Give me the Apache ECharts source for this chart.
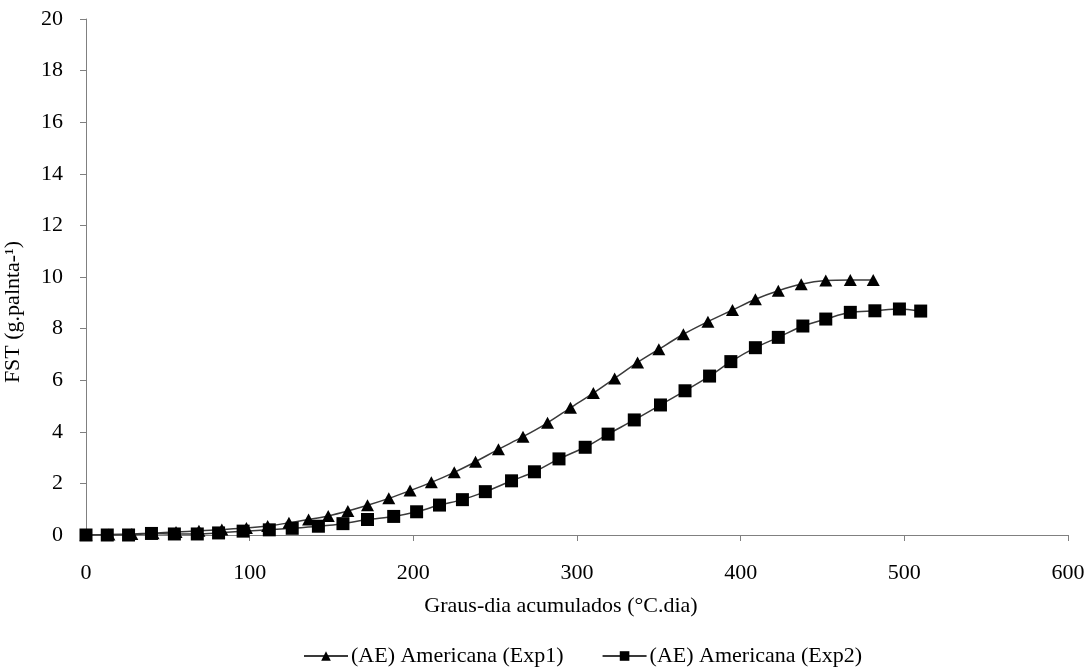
<!DOCTYPE html>
<html>
<head>
<meta charset="utf-8">
<script src="https://cdn.jsdelivr.net/npm/echarts@6/dist/echarts.min.js"></script>
<style>
html,body{margin:0;padding:0;background:#fff;}
#chart{width:1088px;height:668px;}
</style>
</head>
<body>
<div id="chart"></div>
<script>
// Exp1 (triangles)
var exp1X = [0, 14, 28, 41, 55, 69, 83, 98, 111, 124, 136, 148, 160, 172, 185, 198, 211, 225, 238, 252, 267, 282, 296, 310, 323, 337, 350, 365, 380, 395, 409, 423, 437, 452, 467, 481];
var exp1Y = [0, 0.02, 0.04, 0.07, 0.12, 0.16, 0.21, 0.27, 0.35, 0.47, 0.6, 0.74, 0.93, 1.15, 1.42, 1.72, 2.04, 2.43, 2.84, 3.32, 3.81, 4.35, 4.93, 5.5, 6.07, 6.69, 7.2, 7.78, 8.27, 8.72, 9.14, 9.47, 9.72, 9.86, 9.88, 9.88];
// Exp2 (squares)
var exp2X = [0, 13, 26, 40, 54, 68, 81, 96, 112, 126, 142, 157, 172, 188, 202, 216, 230, 244, 260, 274, 289, 305, 319, 335, 351, 366, 381, 394, 409, 423, 438, 452, 467, 482, 497, 510];
var exp2Y = [0, 0, 0, 0.06, 0.04, 0.04, 0.08, 0.15, 0.2, 0.26, 0.34, 0.44, 0.6, 0.72, 0.9, 1.16, 1.37, 1.68, 2.1, 2.45, 2.95, 3.4, 3.91, 4.46, 5.04, 5.59, 6.16, 6.72, 7.26, 7.66, 8.1, 8.37, 8.63, 8.69, 8.76, 8.68];

var seriesNames = ['(AE) Americana (Exp1)', '(AE) Americana (Exp2)'];
var xTitle = 'Graus-dia acumulados (°C.dia)';
var yTitle = 'FST (g.palnta-¹)';

function pairs(xs, ys) { return xs.map(function (x, i) { return [x, ys[i]]; }); }

var font = 'Liberation Serif, Times New Roman, serif';
var fs = 22;
var chart = echarts.init(document.getElementById('chart'), null, { renderer: 'canvas' });
chart.setOption({
  backgroundColor: '#ffffff',
  animation: false,
  grid: { left: 86, right: 20, top: 19, bottom: 133, containLabel: false, outerBoundsMode: 'none' },
  xAxis: {
    type: 'value', min: 0, max: 600, interval: 100,
    name: xTitle, nameLocation: 'middle', nameGap: 60,
    nameTextStyle: { fontFamily: font, fontSize: fs, color: '#000', padding: [0, 32, 0, 0] },
    axisLine: { show: true, lineStyle: { color: '#808080', width: 1 } },
    axisTick: { show: true, length: 6, lineStyle: { color: '#808080' } },
    axisLabel: { fontFamily: font, fontSize: fs, color: '#000', margin: 27 },
    splitLine: { show: false }
  },
  yAxis: {
    type: 'value', min: 0, max: 20, interval: 2,
    name: yTitle, nameLocation: 'middle', nameGap: 62,
    nameTextStyle: { fontFamily: font, fontSize: fs, color: '#000', padding: [0, 70, 0, 0] },
    axisLine: { show: true, lineStyle: { color: '#808080', width: 1 } },
    axisTick: { show: true, length: 6, lineStyle: { color: '#808080' } },
    axisLabel: { fontFamily: font, fontSize: fs, color: '#000', margin: 23 },
    splitLine: { show: false }
  },
  legend: {
    top: 640, left: 298, itemGap: 38, itemWidth: 44, itemHeight: 12,
    textStyle: { fontFamily: font, fontSize: fs, color: '#000', padding: [0, 0, 0, -2] },
    data: seriesNames
  },
  series: [
    {
      name: seriesNames[0], type: 'line', smooth: 0.3,
      data: pairs(exp1X, exp1Y),
      symbol: 'triangle', symbolSize: [13, 12],
      itemStyle: { color: '#000' },
      lineStyle: { color: '#3a3a3a', width: 1.5 }
    },
    {
      name: seriesNames[1], type: 'line', smooth: 0.3,
      data: pairs(exp2X, exp2Y),
      symbol: 'rect', symbolSize: 13,
      itemStyle: { color: '#000' },
      lineStyle: { color: '#3a3a3a', width: 1.5 }
    }
  ]
});
</script>
</body>
</html>
